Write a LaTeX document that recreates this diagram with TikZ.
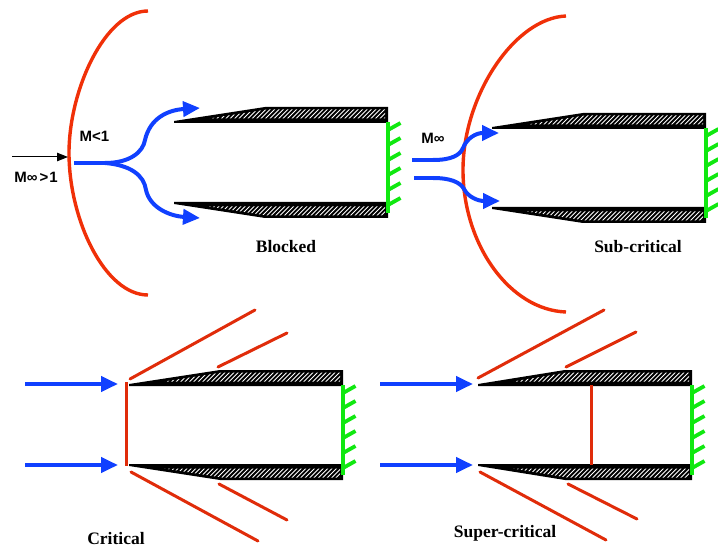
\documentclass[tikz,border=0pt]{standalone}
\usepackage{fontspec}
\setmainfont{Liberation Serif}
\newfontfamily\hv{Liberation Sans}
\usetikzlibrary{arrows.meta}
\definecolor{shockred}{HTML}{F03008}
\definecolor{lowred}{HTML}{E02C0A}
\definecolor{flowblue}{HTML}{1040FF}
\definecolor{wallgreen}{HTML}{10E810}
\tikzset{
 shock/.style={draw=lowred,line width=3pt,line cap=round},
 bigshock/.style={draw=shockred,line width=3.4pt},
 flow/.style={draw=flowblue,line width=4pt},
 flowtip/.style={flow,-{Triangle[length=17pt,width=15pt]}},
 wall/.style={draw=wallgreen,line width=3.4pt},
 tick/.style={draw=wallgreen,line width=3.8pt},
 sans/.style={font=\hv\bfseries\fontsize{15}{16}\selectfont,inner sep=0pt},
 capt/.style={font=\bfseries\fontsize{17.5}{19}\selectfont,inner sep=0pt},
}
% #1 tip x, #2 ramp x, #3 right x, #4 upper inner y, #5 lower inner y
\newcommand{\ductpair}[5]{
 \begin{scope}
  \fill[black] (#1,#4-1) -- (#2,#4-15) -- (#3,#4-15) -- (#3,#4+1) -- (#1,#4+1) -- cycle;
  \clip (#1+35,#4-3.5) -- (#2+2,#4-12.5) -- (#3-3,#4-12.5) -- (#3-3,#4-3.5) -- cycle;
  \foreach \k in {0,4.4,...,270} \draw[white,line width=.9pt] (#1+\k,#4) -- ++(13,-13);
 \end{scope}
 \begin{scope}
  \fill[black] (#1,#5-1) -- (#3,#5-1) -- (#3,#5+15) -- (#2,#5+15) -- (#1,#5+1) -- cycle;
  \clip (#1+35,#5+3.5) -- (#3-3,#5+3.5) -- (#3-3,#5+12.5) -- (#2+2,#5+12.5) -- cycle;
  \foreach \k in {0,4.4,...,270} \draw[white,line width=.9pt] (#1+\k,#5+13) -- ++(13,-13);
 \end{scope}
 \draw[wall] (#3,#4) -- (#3,#5+10);
 \foreach \d in {0,15,30,45,60,75}
   \draw[tick] (#3,#4+8+\d) -- ++(12.5,-7);
}
\begin{document}
\begin{tikzpicture}[x=1pt,y=-1pt]
\useasboundingbox (0,0) rectangle (718,548);
% ducts
\ductpair{174}{265}{388}{122}{203}
\ductpair{492}{583}{706}{128}{208}
\ductpair{129}{220}{343}{385}{465}
\ductpair{478}{565}{692}{385}{465}
% blocked
\draw[bigshock] (148,11) .. controls (105,11) and (69,90) .. (69,153) .. controls (69,220) and (105,295) .. (148,295);
\coordinate (a0) at (12,157); \coordinate (a1) at (68,157);
\draw[black,line width=1pt,-{Triangle[length=11pt,width=8.5pt]}] (a0) -- (a1);
\coordinate (b0) at (74,163); \coordinate (bm) at (105,163);
\coordinate (bu) at (200,108); \coordinate (bd) at (200,218);
\draw[flow,line width=4.5pt] (b0) -- (bm);
\draw[flowtip] (bm) .. controls (130,163) and (143,152) .. (145,140) .. controls (150,118) and (168,110) .. (bu);
\draw[flowtip] (bm) .. controls (130,165) and (144,175) .. (146,190) .. controls (150,208) and (170,216) .. (bd);
\node[sans] (m1) at (94.5,136) {M<1};
\node[sans] (minf) at (36,177) {M∞\kern2pt>\kern1pt1};
\node[capt] (c1) at (286,247) {Blocked};
% sub-critical
\draw[bigshock] (566,16) .. controls (515,18) and (463,95) .. (463,170) .. controls (463,245) and (510,310) .. (566,312);
\coordinate (s0) at (412,160); \coordinate (s1) at (433,160);
\coordinate (s2) at (414,178); \coordinate (s3) at (433,178);
\coordinate (su) at (499,133); \coordinate (sd) at (500,201);
\draw[flow] (s0) -- (s1);
\draw[flow] (s2) -- (s3);
\draw[flowtip] (s1) .. controls (452,160) and (460,155) .. (463,148) .. controls (467,138) and (476,133) .. (su);
\draw[flowtip] (s3) .. controls (450,178) and (460,182) .. (464,189) .. controls (468,197) and (478,201) .. (sd);
\node[sans] (m2) at (433,138) {M∞};
\node[capt] (c2) at (638,247) {Sub-critical};
% critical
\foreach \n/\y in {p/384,q/465}{
  \coordinate (\n0) at (25,\y); \coordinate (\n1) at (118,\y);
  \draw[flowtip] (\n0) -- (\n1);
  \coordinate (\n2) at (380,\y); \coordinate (\n3) at (473,\y);
  \draw[flowtip] (\n2) -- (\n3);
}
\draw[shock,line cap=butt] (126,382) -- (126,466);
\draw[shock] (130,379) -- (255,310);
\draw[shock] (218,367) -- (287,333);
\draw[shock] (131,472) -- (258,541);
\draw[shock] (219,484) -- (287,520);
\node[capt] (c3) at (116,539) {Critical};
% super-critical
\draw[shock,line cap=butt] (591,385) -- (591,465);
\draw[shock] (478,378) -- (604,310);
\draw[shock] (566,367) -- (636,332);
\draw[shock] (480,472) -- (606,540);
\draw[shock] (568,484) -- (637,519);
\node[capt] (c4) at (505,533) {Super-critical};
\end{tikzpicture}
\end{document}
